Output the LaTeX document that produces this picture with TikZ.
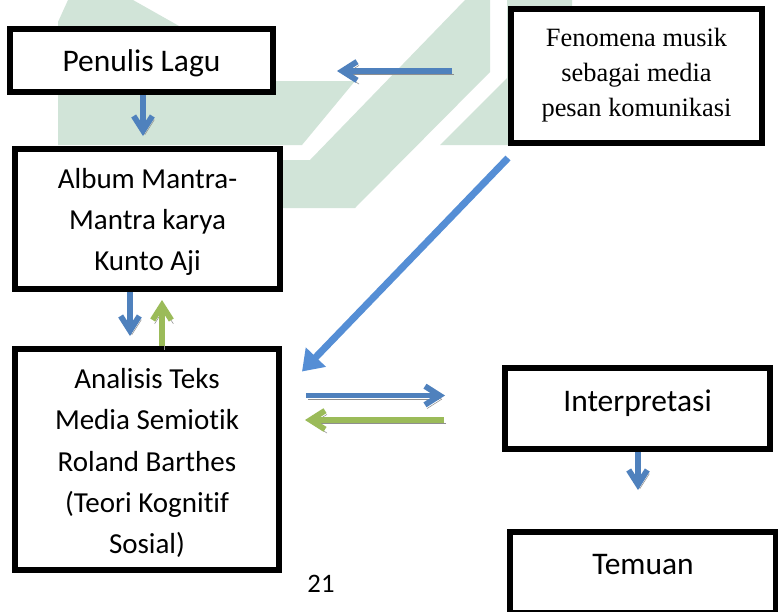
\documentclass[tikz,border=0pt]{standalone}
\usepackage{fontspec}
\setmainfont{Carlito}[Ligatures=CommonOff]
\newfontfamily\tnr{Liberation Serif}
\usetikzlibrary{arrows.meta,calc}
\definecolor{wm}{HTML}{D1E4D8}
\definecolor{ablue}{HTML}{4F81BD}
\definecolor{dblue}{HTML}{558ED5}
\definecolor{agreen}{HTML}{9BBB59}
\definecolor{shad}{HTML}{8F8F8F}
\begin{document}
\begin{tikzpicture}[x=0.75pt,y=-0.75pt,
  box/.style={draw=black, line width=4.5pt, fill=white, inner sep=0pt},
  txt/.style={align=center, inner sep=0pt},
  bigtxt/.style={txt, font=\fontsize{23.6}{28}\selectfont},
  midtxt/.style={txt, font=\fontsize{21.75}{31}\selectfont},
  sertxt/.style={txt, font=\tnr\fontsize{19.8}{26.25}\selectfont},
  arr/.style={line width=4.3pt, -{Straight Barb[length=11pt,width=14pt]},
    preaction={draw=shad, transform canvas={xshift=1.5pt,yshift=-2.8pt}}},
  bluearr/.style={arr, draw=ablue},
  greenarr/.style={arr, draw=agreen},
  diagarr/.style={line width=5.25pt, draw=dblue, -{Triangle[length=15pt,width=20pt]}}]
\useasboundingbox (0,0) rectangle (778,611);
\fill[white] (0,0) rectangle (778,611);
% watermark
\fill[wm] (58,22) -- (68,0) -- (133,0) -- (195,35) -- (242,81) -- (355,81) -- (302,145) -- (58,145) -- cycle;
\fill[wm] (465,0) -- (490,0) -- (490,72) -- (355,208) -- (250,208) -- (250,160) -- (310,160) -- cycle;
\fill[wm] (507,0) -- (572,0) -- (572,145) -- (440,145) -- (507,78) -- cycle;
% boxes
\node[box, minimum width={263*0.75pt}, minimum height={63*0.75pt}] (pen) at (141.5,60.5) {};
\node[box, minimum width={251*0.75pt}, minimum height={134*0.75pt}] (fen) at (636.5,76) {};
\node[box, minimum width={265*0.75pt}, minimum height={140*0.75pt}] (alb) at (147.5,219) {};
\node[box, minimum width={264*0.75pt}, minimum height={221*0.75pt}] (ana) at (147,459.5) {};
\node[box, minimum width={265*0.75pt}, minimum height={81*0.75pt}] (int) at (637.5,408.5) {};
\node[box, minimum width={266*0.75pt}, minimum height={81*0.75pt}] (tem) at (643,572.5) {};
% texts
\node[bigtxt] (pent) at ($(pen.center)+(0,2.5)$) {Penulis Lagu};
\node[sertxt] (fent) at ($(fen.center)+(0,-1)$) {Fenomena musik\\sebagai media\\pesan komunikasi};
\node[midtxt] (albt) at ($(alb.center)+(0,3)$) {Album Mantra-\\Mantra karya\\Kunto Aji};
\node[midtxt] (anat) at ($(ana.center)+(0,3.5)$) {Analisis Teks\\Media Semiotik\\Roland Barthes\\(Teori Kognitif\\Sosial)};
\node[bigtxt] (intt) at ($(int.center)+(0,-5.5)$) {Interpretasi};
\node[bigtxt] (temt) at ($(tem.center)+(0,-7.5)$) {Temuan};
\node[font=\fontsize{20}{24}\selectfont] (pg) at (321,584) {21};
% connectors
\draw[bluearr] ($(fen.west)+(-56,-5)$) -- ($(pen.east)+(61,10.5)$);
\draw[bluearr] ($(pen.south)+(1.5,0)$) -- ($(alb.north)+(-4.5,-10)$);
\draw[bluearr] ($(alb.south)+(-17.5,0)$) -- ($(ana.north)+(-17,-10)$);
\draw[greenarr] ($(ana.north)+(15,0)$) -- ($(alb.south)+(14.5,8)$);
\draw[diagarr] ($(fen.south west)+(0,12)$) -- ($(ana.east)+(20,-88)$);
\draw[bluearr] ($(ana.east)+(24,-64)$) -- ($(int.west)+(-57,-13)$);
\draw[greenarr] ($(int.west)+(-58,11.5)$) -- ($(ana.east)+(23,-39.5)$);
\draw[bluearr] ($(int.south)+(0.5,0)$) -- ($(tem.north)+(-5,-39)$);
\end{tikzpicture}
\end{document}
